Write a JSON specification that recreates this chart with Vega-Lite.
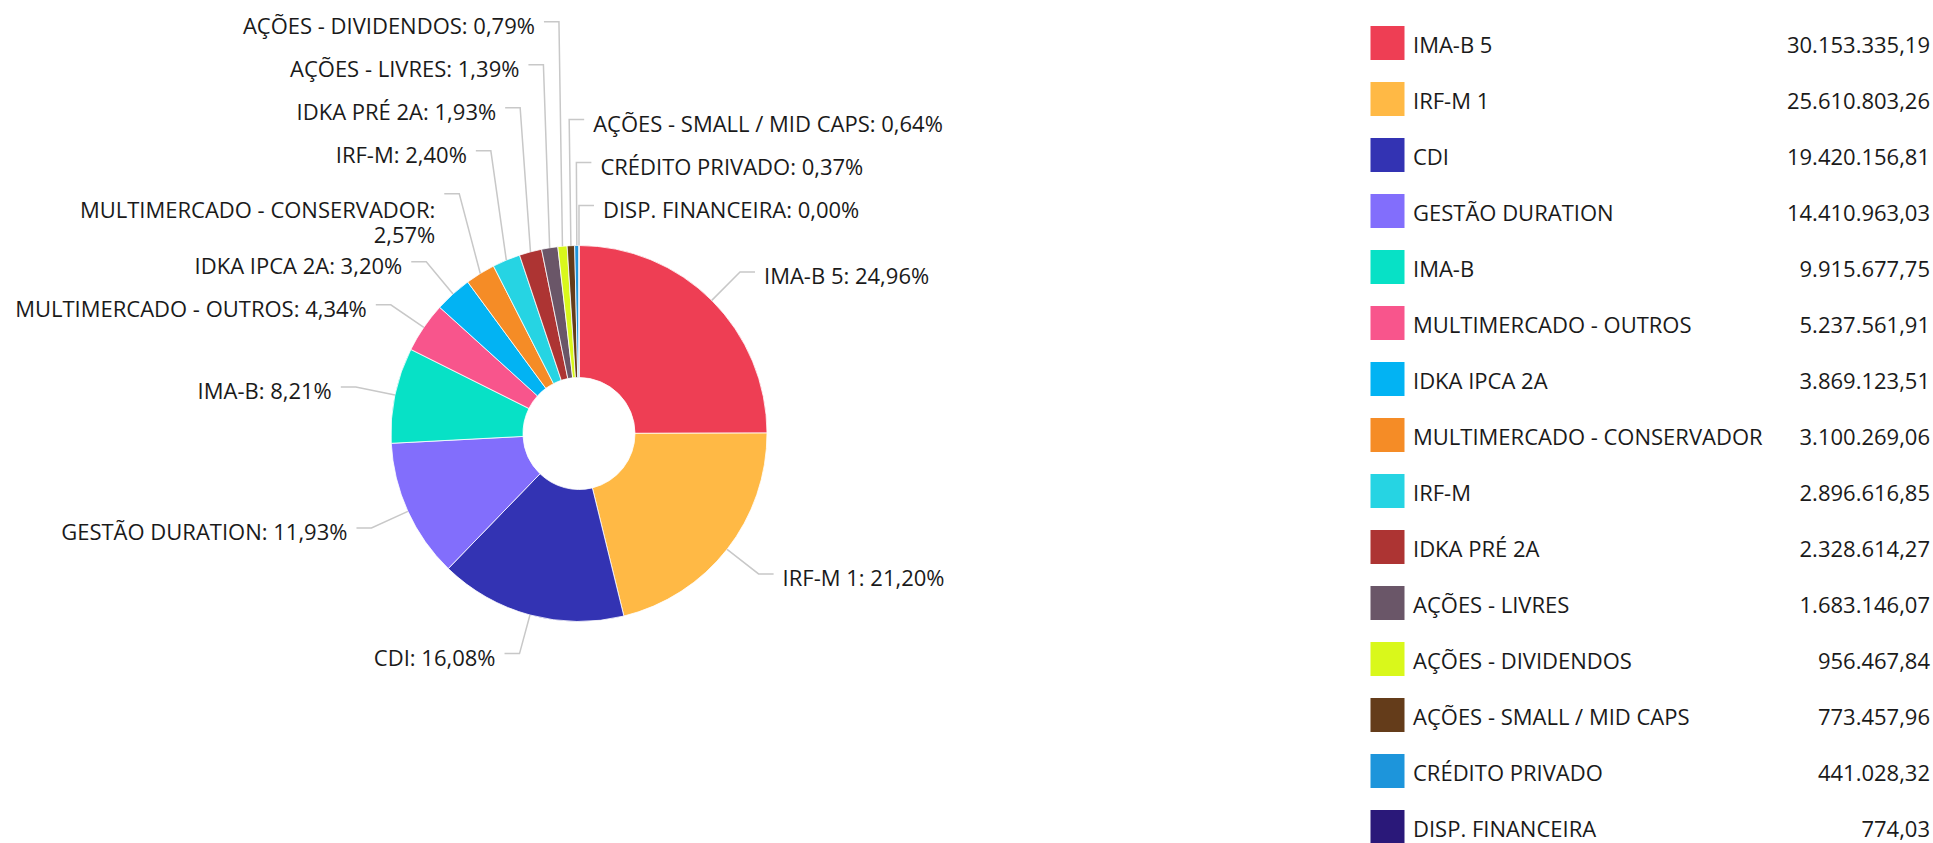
{
  "$schema": "https://vega.github.io/schema/vega-lite/v6.json",
  "padding": 0,
  "background": "white",
  "spacing": 0,
  "bounds": "flush",
  "config": {
    "view": {"stroke": null},
    "font": "Open Sans",
    "locale": {"number": {"decimal": ",", "thousands": ".", "grouping": [3], "currency": ["R$ ", ""]}}
  },
  "datasets": {
    "carteira": [
      {"name": "IMA-B 5", "value": 30153335.19},
      {"name": "IRF-M 1", "value": 25610803.26},
      {"name": "CDI", "value": 19420156.81},
      {"name": "GESTÃO DURATION", "value": 14410963.03},
      {"name": "IMA-B", "value": 9915677.75},
      {"name": "MULTIMERCADO - OUTROS", "value": 5237561.91},
      {"name": "IDKA IPCA 2A", "value": 3869123.51},
      {"name": "MULTIMERCADO - CONSERVADOR", "value": 3100269.06},
      {"name": "IRF-M", "value": 2896616.85},
      {"name": "IDKA PRÉ 2A", "value": 2328614.27},
      {"name": "AÇÕES - LIVRES", "value": 1683146.07},
      {"name": "AÇÕES - DIVIDENDOS", "value": 956467.84},
      {"name": "AÇÕES - SMALL / MID CAPS", "value": 773457.96},
      {"name": "CRÉDITO PRIVADO", "value": 441028.32},
      {"name": "DISP. FINANCEIRA", "value": 774.03}
    ]
  },
  "hconcat": [
    {
      "width": 1158,
      "height": 843,
      "data": {"name": "carteira"},
      "transform": [
        {"joinaggregate": [{"op": "sum", "field": "value", "as": "total"}]},
        {"calculate": "datum.value / datum.total", "as": "pct"},
        {"window": [{"op": "sum", "field": "pct", "as": "cum"}], "sort": [{"field": "value", "order": "descending"}], "frame": [null, 0]},
        {"calculate": "datum.cum - datum.pct / 2", "as": "mid"},
        {"calculate": "2 * PI * datum.mid", "as": "th"},
        {"calculate": "(datum.mid < 0.5 || datum.mid > 0.99) ? 'R' : 'L'", "as": "side"},
        {"calculate": "datum.side == 'R' ? (datum.mid > 0.5 ? 1 - datum.mid : -datum.mid) : datum.mid", "as": "k"},
        {"calculate": "228 * sin(datum.th)", "as": "nx"},
        {"calculate": "-228 * cos(datum.th)", "as": "ny"},
        {"calculate": "(datum.side == 'L' && length(datum.name) > 24) ? 2 : 1", "as": "lines"},
        {"calculate": "43 + 25 * (datum.lines - 1)", "as": "h"},
        {"window": [{"op": "sum", "field": "h", "as": "cumH"}], "groupby": ["side"], "sort": [{"field": "k", "order": "ascending"}], "frame": [null, 0]},
        {"calculate": "datum.cumH - datum.h / 2", "as": "c"},
        {"calculate": "datum.ny + datum.c", "as": "key"},
        {"window": [{"op": "min", "field": "key", "as": "cm"}], "groupby": ["side"], "sort": [{"field": "k", "order": "ascending"}], "frame": [null, 0]},
        {"calculate": "datum.cm - datum.c", "as": "ly"},
        {"calculate": "format(datum.pct, '.2%')", "as": "pctText"},
        {"calculate": "datum.lines == 2 ? [datum.name + ':', datum.pctText] : datum.name + ': ' + datum.pctText", "as": "label"}
      ],
      "layer": [
        {
          "mark": {"type": "arc", "outerRadius": 188, "innerRadius": 56, "stroke": "#ffffff", "strokeWidth": 0.8},
          "encoding": {
            "theta": {"field": "value", "type": "quantitative", "stack": true},
            "order": {"field": "value", "sort": "descending"},
            "color": {
              "field": "name", "type": "nominal", "legend": null,
              "scale": {
                "domain": ["IMA-B 5", "IRF-M 1", "CDI", "GESTÃO DURATION", "IMA-B", "MULTIMERCADO - OUTROS", "IDKA IPCA 2A", "MULTIMERCADO - CONSERVADOR", "IRF-M", "IDKA PRÉ 2A", "AÇÕES - LIVRES", "AÇÕES - DIVIDENDOS", "AÇÕES - SMALL / MID CAPS", "CRÉDITO PRIVADO", "DISP. FINANCEIRA"],
                "range": ["#ee3e54", "#ffb945", "#3333b3", "#826efc", "#07e1c6", "#f8558c", "#02b3f3", "#f58c26", "#26d4e3", "#ad3433", "#6a5668", "#d9f81b", "#643c1a", "#1d95db", "#2a1879"]
              }
            },
            "x": {"datum": 0, "type": "quantitative", "scale": {"domain": [-579, 579], "nice": false, "zero": false}, "axis": null},
            "y": {"datum": 0, "type": "quantitative", "scale": {"domain": [-433.5, 409.5], "reverse": true, "nice": false, "zero": false}, "axis": null}
          }
        },
        {
          "transform": [
            {"calculate": "datum.ly - (datum.lines - 1) * 12.5", "as": "ly2"},
            {"calculate": "datum.side == 'R' ? [datum.nx + 15, datum.nx, 188 * sin(datum.th)] : [datum.nx - 15, datum.nx, 188 * sin(datum.th)]", "as": "px"},
            {"calculate": "[datum.ly2, datum.ly2, -188 * cos(datum.th)]", "as": "py"},
            {"calculate": "[0, 1, 2]", "as": "pi"},
            {"flatten": ["px", "py", "pi"]}
          ],
          "mark": {"type": "line", "stroke": "#c8c8c8", "strokeWidth": 1.5},
          "encoding": {
            "x": {"field": "px", "type": "quantitative", "scale": {"domain": [-579, 579], "nice": false, "zero": false}, "axis": null},
            "y": {"field": "py", "type": "quantitative", "scale": {"domain": [-433.5, 409.5], "reverse": true, "nice": false, "zero": false}, "axis": null},
            "detail": {"field": "name", "type": "nominal"},
            "order": {"field": "pi", "type": "quantitative"}
          }
        },
        {
          "transform": [{"filter": "datum.side == 'L'"}],
          "mark": {"type": "text", "align": "right", "baseline": "middle", "dx": -24, "dy": 5, "fontSize": 22, "lineHeight": 25, "color": "#1a1a1a"},
          "encoding": {
            "x": {"field": "nx", "type": "quantitative", "scale": {"domain": [-579, 579], "nice": false, "zero": false}, "axis": null},
            "y": {"field": "ly", "type": "quantitative", "scale": {"domain": [-433.5, 409.5], "reverse": true, "nice": false, "zero": false}, "axis": null},
            "text": {"field": "label", "type": "nominal"}
          }
        },
        {
          "transform": [{"filter": "datum.side == 'R'"}],
          "mark": {"type": "text", "align": "left", "baseline": "middle", "dx": 24, "dy": 5, "fontSize": 22, "lineHeight": 25, "color": "#1a1a1a"},
          "encoding": {
            "x": {"field": "nx", "type": "quantitative", "scale": {"domain": [-579, 579], "nice": false, "zero": false}, "axis": null},
            "y": {"field": "ly", "type": "quantitative", "scale": {"domain": [-433.5, 409.5], "reverse": true, "nice": false, "zero": false}, "axis": null},
            "text": {"field": "label", "type": "nominal"}
          }
        }
      ]
    },
    {
      "width": 775,
      "height": 843,
      "data": {"name": "carteira"},
      "encoding": {
        "y": {"field": "name", "type": "nominal", "sort": {"field": "value", "op": "sum", "order": "descending"}, "scale": {"type": "point", "range": [43, 827], "padding": 0}, "axis": null}
      },
      "layer": [
        {
          "mark": {"type": "square", "size": 1156, "opacity": 1, "filled": true, "x": 229.5},
          "encoding": {
            "color": {
              "field": "name", "type": "nominal", "legend": null,
              "scale": {
                "domain": ["IMA-B 5", "IRF-M 1", "CDI", "GESTÃO DURATION", "IMA-B", "MULTIMERCADO - OUTROS", "IDKA IPCA 2A", "MULTIMERCADO - CONSERVADOR", "IRF-M", "IDKA PRÉ 2A", "AÇÕES - LIVRES", "AÇÕES - DIVIDENDOS", "AÇÕES - SMALL / MID CAPS", "CRÉDITO PRIVADO", "DISP. FINANCEIRA"],
                "range": ["#ee3e54", "#ffb945", "#3333b3", "#826efc", "#07e1c6", "#f8558c", "#02b3f3", "#f58c26", "#26d4e3", "#ad3433", "#6a5668", "#d9f81b", "#643c1a", "#1d95db", "#2a1879"]
              }
            }
          }
        },
        {
          "mark": {"type": "text", "align": "left", "baseline": "middle", "x": 255, "dy": 3, "fontSize": 22, "color": "#1a1a1a"},
          "encoding": {"text": {"field": "name", "type": "nominal"}}
        },
        {
          "mark": {"type": "text", "align": "right", "baseline": "middle", "x": 772, "dy": 3, "fontSize": 22, "color": "#1a1a1a"},
          "encoding": {"text": {"field": "value", "type": "quantitative", "format": ",.2f"}}
        }
      ]
    }
  ]
}
